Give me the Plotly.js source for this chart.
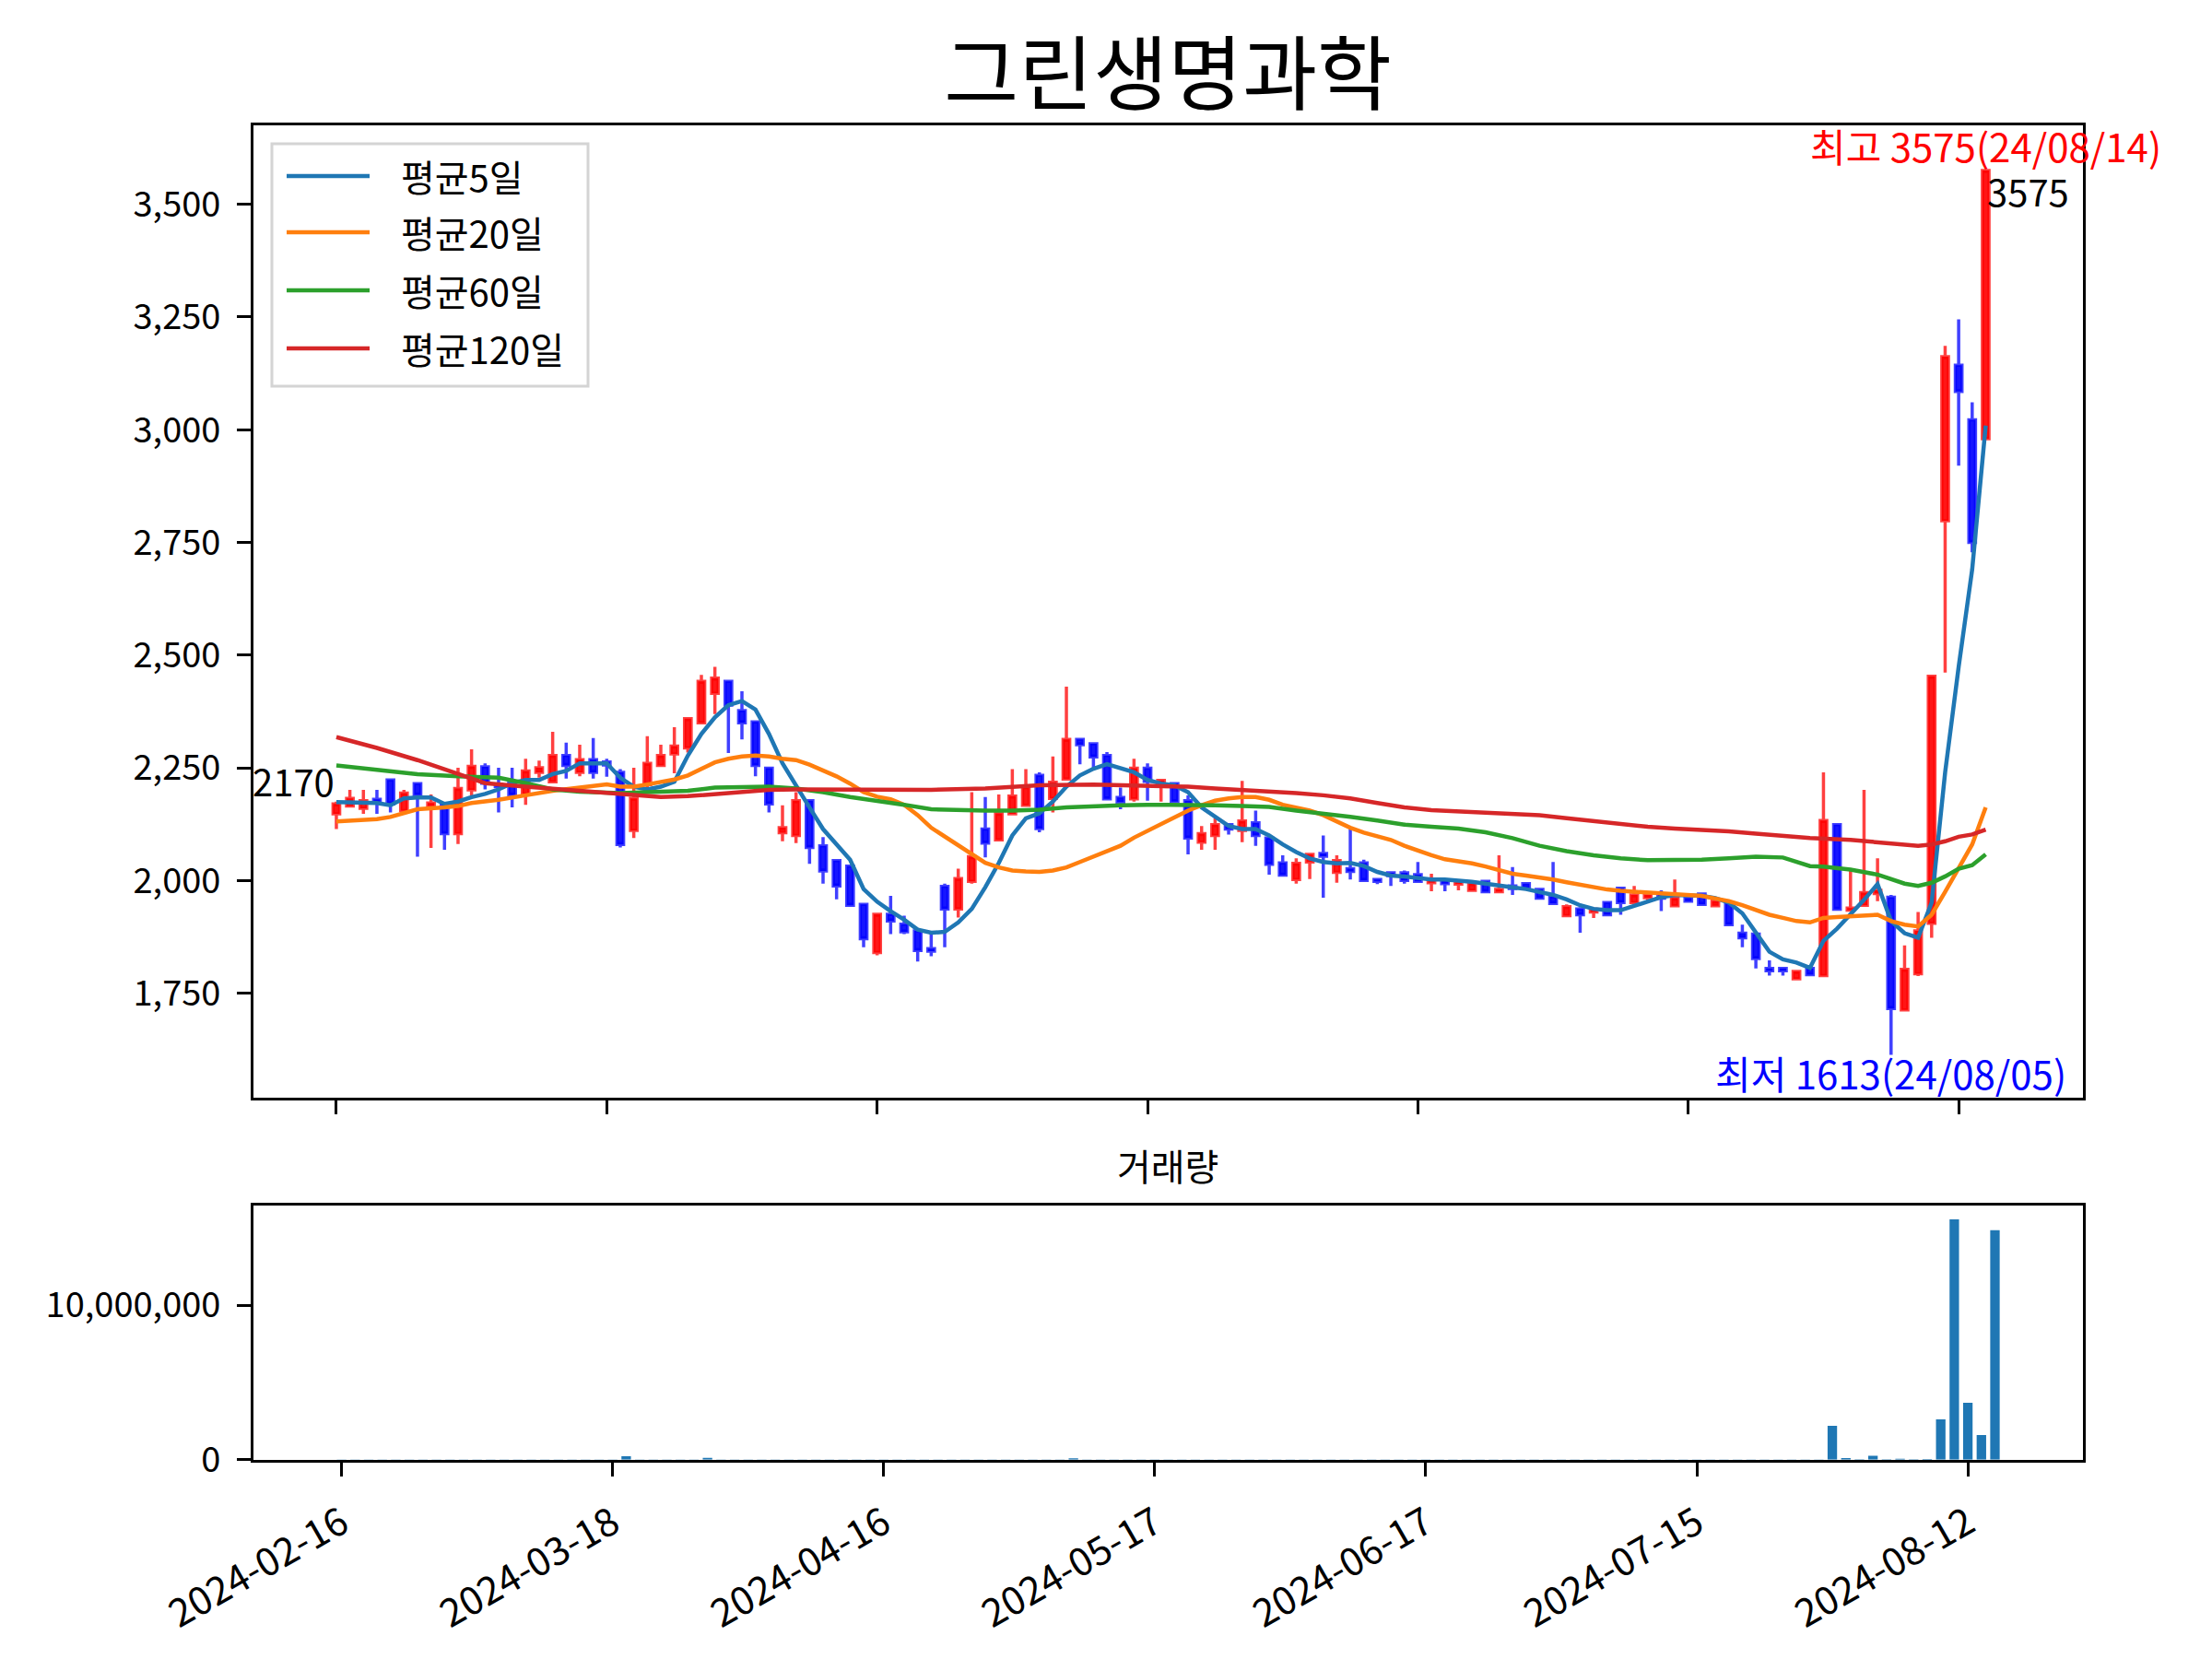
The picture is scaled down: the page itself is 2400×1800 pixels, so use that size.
<!DOCTYPE html>
<html>
<head>
<meta charset="utf-8">
<script src="https://cdn.plot.ly/plotly-3.0.1.min.js"></script>
<style>
    html, body { margin: 0; padding: 0; background: #fff; }
</style>
</head>
<body>
<div id="chart" style="width:2400px;height:1800px;"></div>
<script>
const FONT = '"Noto Sans CJK KR", "Noto Sans", sans-serif';

// trading-day index based axis, labels every 20 sessions
const tickIdx = [0, 20, 40, 60, 80, 100, 120];
const tickLabels = ['2024-02-16', '2024-03-18', '2024-04-16', '2024-05-17', '2024-06-17', '2024-07-15', '2024-08-12'];

const opens = [
    2148, 2165, 2160, 2180, 2223, 2155, 2215, 2165, 2168, 2104,
    2201, 2252, 2213, 2216, 2192, 2240, 2219, 2277, 2240, 2268,
    2263, 2240, 2111, 2213, 2255, 2281, 2294, 2350, 2415, 2442,
    2377, 2352, 2249, 2106, 2100, 2177, 2077, 2044, 2032, 1947,
    1840, 1925, 1903, 1888, 1849, 1987, 1937, 1998, 2114, 2090,
    2148, 2167, 2233, 2182, 2225, 2313, 2303, 2277, 2184, 2181,
    2249, 2215, 2215, 2177, 2085, 2100, 2124, 2111, 2128, 2094,
    2039, 2002, 2041, 2060, 2018, 2026, 2039, 2002, 2017, 2017,
    2013, 1995, 2000, 1992, 1978, 1998, 1975, 1988, 1993, 1980,
    1964, 1922, 1937, 1930, 1951, 1983, 1951, 1962, 1968, 1944,
    1961, 1970, 1944, 1951, 1883, 1881, 1805, 1805, 1782, 1805,
    1789, 2124, 1934, 1945, 1971, 1963, 1713, 1793, 1905, 2798,
    3143, 3022, 2980
];
const highs = [
    2175, 2201, 2201, 2201, 2223, 2201, 2215, 2191, 2168, 2250,
    2291, 2260, 2250, 2250, 2270, 2266, 2330, 2306, 2301, 2316,
    2270, 2247, 2250, 2320, 2301, 2340, 2359, 2456, 2474, 2442,
    2420, 2352, 2249, 2167, 2196, 2177, 2096, 2044, 2032, 1947,
    1925, 1966, 1922, 1888, 1883, 1993, 2026, 2196, 2185, 2191,
    2247, 2247, 2240, 2275, 2430, 2313, 2303, 2285, 2206, 2270,
    2260, 2225, 2215, 2189, 2121, 2138, 2124, 2221, 2155, 2094,
    2056, 2049, 2058, 2100, 2056, 2115, 2046, 2002, 2017, 2022,
    2041, 2015, 2000, 2002, 1993, 2000, 2056, 2030, 1993, 1980,
    2041, 1947, 1941, 1936, 1951, 1983, 1988, 1968, 1978, 2002,
    1968, 1970, 1954, 1951, 1902, 1881, 1823, 1805, 1800, 1805,
    2240, 2124, 2026, 2201, 2049, 1968, 1856, 1930, 2453, 3186,
    3245, 3061, 3575
];
const lows = [
    2114, 2162, 2148, 2148, 2151, 2151, 2053, 2072, 2068, 2081,
    2189, 2202, 2151, 2162, 2168, 2228, 2216, 2226, 2231, 2226,
    2230, 2073, 2094, 2202, 2252, 2238, 2284, 2350, 2369, 2283,
    2313, 2231, 2151, 2087, 2083, 2037, 1993, 1958, 1945, 1852,
    1834, 1881, 1881, 1820, 1832, 1852, 1918, 1993, 2051, 2090,
    2148, 2167, 2107, 2151, 2225, 2258, 2250, 2181, 2158, 2175,
    2177, 2175, 2174, 2058, 2068, 2068, 2102, 2085, 2077, 2013,
    2012, 1993, 2003, 1962, 1995, 2002, 1998, 1992, 1988, 1993,
    1998, 1976, 1976, 1978, 1978, 1975, 1975, 1968, 1982, 1961,
    1949, 1922, 1884, 1917, 1924, 1924, 1951, 1954, 1932, 1944,
    1951, 1947, 1944, 1902, 1852, 1805, 1789, 1789, 1779, 1791,
    1786, 1936, 1934, 1945, 1954, 1613, 1713, 1788, 1873, 2461,
    2920, 2728, 2980
];
const closes = [
    2170, 2182, 2177, 2172, 2170, 2194, 2190, 2172, 2104, 2204,
    2253, 2216, 2208, 2190, 2243, 2250, 2277, 2255, 2268, 2240,
    2256, 2080, 2182, 2260, 2277, 2298, 2359, 2442, 2449, 2389,
    2350, 2255, 2170, 2117, 2177, 2073, 2021, 1988, 1945, 1871,
    1925, 1910, 1886, 1845, 1843, 1937, 2004, 2053, 2083, 2149,
    2187, 2208, 2115, 2218, 2313, 2301, 2274, 2181, 2174, 2249,
    2220, 2222, 2175, 2094, 2104, 2124, 2114, 2132, 2100, 2036,
    2012, 2038, 2058, 2054, 2044, 2020, 2000, 1998, 2011, 2000,
    1998, 1999, 1993, 1996, 1993, 1975, 1980, 1982, 1982, 1961,
    1949, 1942, 1924, 1936, 1924, 1951, 1968, 1968, 1961, 1961,
    1954, 1947, 1954, 1902, 1873, 1827, 1800, 1800, 1798, 1791,
    2133, 1936, 1939, 1973, 1978, 1716, 1803, 1888, 2453, 3162,
    3085, 2750, 3575
];
const volumes = [
    9000, 7000, 6000, 6500, 9500, 8000, 11000, 8500, 10000, 12000,
    13000, 7500, 7000, 6000, 10000, 5500, 12000, 7000, 6500, 8500,
    5500, 210000, 14000, 15000, 8000, 11000, 14000, 110000, 15000, 13000,
    9000, 12000, 10000, 8000, 9000, 9500, 8000, 7500, 8500, 11000,
    10000, 7000, 6500, 7500, 6000, 9000, 8000, 13000, 8500, 9500,
    11000, 10000, 9000, 10500, 90000, 9500, 8000, 8500, 5500, 10000,
    7500, 5000, 6500, 9000, 6000, 7000, 4500, 11000, 6500, 7500,
    5000, 5500, 6000, 8000, 5000, 7000, 5500, 4000, 4500, 4000,
    4500, 4200, 3500, 4000, 3400, 4500, 7000, 5500, 3800, 5000,
    6500, 5200, 6000, 4000, 4600, 5600, 5000, 3800, 4400, 5800,
    4200, 4800, 4000, 6300, 7300, 8800, 5900, 5000, 5400, 4600,
    2190000, 100000, 30000, 240000, 20000, 60000, 30000, 40000, 2610000, 15560000,
    3680000, 1590000, 14850000
];

// moving averages: index lists + values
const ma5X = [
    0, 1, 2, 3, 4, 5, 6, 7, 8, 9, 10, 11, 12, 13, 14, 15, 16, 17, 18, 19,
    20, 21, 22, 23, 24, 25, 26, 27, 28, 29, 30, 31, 32, 33, 34, 35, 36, 37, 38, 39,
    40, 41, 42, 43, 44, 45, 46, 47, 48, 49, 50, 51, 52, 53, 54, 55, 56, 57, 58, 59,
    60, 61, 62, 63, 64, 65, 66, 67, 68, 69, 70, 71, 72, 73, 74, 75, 76, 77, 78, 79,
    80, 81, 82, 83, 84, 85, 86, 87, 88, 89, 90, 91, 92, 93, 94, 95, 96, 97, 98, 99,
    100, 101, 102, 103, 104, 105, 106, 107, 108, 109, 110, 111, 112, 113, 114, 115, 116, 117, 118, 119,
    120, 121, 122
];
const ma5 = [
    2174, 2174, 2174, 2172, 2167, 2182, 2184, 2184, 2170, 2175, 2185, 2192, 2202, 2216, 2223, 2223, 2236, 2243, 2260, 2260,
    2260, 2228, 2208, 2202, 2208, 2219, 2277, 2325, 2362, 2389, 2398, 2379, 2325, 2260, 2213, 2162, 2114, 2080, 2046, 1981,
    1953, 1932, 1913, 1891, 1884, 1886, 1907, 1937, 1985, 2039, 2100, 2138, 2149, 2175, 2208, 2233, 2248, 2258, 2250, 2240,
    2223, 2215, 2211, 2196, 2162, 2141, 2121, 2114, 2114, 2100, 2080, 2063, 2049, 2041, 2038, 2039, 2032, 2019, 2011, 2009,
    2005, 2002, 2002, 2000, 1997, 1993, 1988, 1985, 1981, 1975, 1968, 1958, 1945, 1937, 1934, 1934, 1944, 1954, 1963, 1968,
    1968, 1966, 1961, 1951, 1927, 1886, 1842, 1825, 1818, 1806, 1866, 1893, 1924, 1957, 1992, 1910, 1883, 1873, 1951, 2240,
    2474, 2690, 3009
];
const ma20X = [
    0, 3, 4, 6, 8, 9, 10, 12, 14, 16, 18, 20, 21, 22, 23, 25, 26, 27, 28, 29,
    30, 31, 32, 33, 34, 35, 36, 37, 38, 39, 40, 41, 42, 43, 44, 45, 46, 47, 48, 49,
    50, 51, 52, 53, 54, 55, 56, 57, 58, 59, 60, 61, 62, 63, 64, 65, 66, 67, 68, 69,
    70, 71, 72, 73, 74, 75, 76, 77, 78, 79, 80, 81, 82, 83, 84, 85, 86, 87, 88, 89,
    90, 91, 92, 93, 94, 95, 96, 97, 98, 99, 100, 101, 102, 103, 104, 105, 106, 107, 108, 109,
    110, 111, 112, 113, 114, 115, 116, 117, 118, 119, 120, 121, 122
];
const ma20 = [
    2131, 2136, 2141, 2158, 2162, 2165, 2172, 2179, 2189, 2199, 2206, 2213, 2208, 2208, 2213, 2224, 2233, 2247, 2262, 2270,
    2275, 2277, 2275, 2270, 2267, 2257, 2245, 2231, 2215, 2196, 2186, 2180, 2168, 2145, 2117, 2097, 2079, 2058, 2039, 2029,
    2022, 2020, 2019, 2022, 2029, 2041, 2053, 2063, 2077, 2095, 2110, 2126, 2140, 2155, 2167, 2177, 2182, 2185, 2185, 2179,
    2168, 2162, 2155, 2145, 2131, 2117, 2106, 2099, 2090, 2077, 2066, 2056, 2047, 2043, 2038, 2031, 2024, 2015, 2011, 2007,
    2002, 1996, 1990, 1985, 1980, 1977, 1975, 1973, 1971, 1969, 1966, 1966, 1960, 1954, 1945, 1934, 1924, 1917, 1910, 1907,
    1917, 1919, 1920, 1921, 1924, 1910, 1902, 1898, 1924, 1975, 2029, 2080, 2162
];
const ma60X = [
    0, 4, 6, 9, 12, 14, 16, 18, 21, 23, 26, 28, 30, 32, 34, 36, 38, 40, 42, 44,
    46, 48, 50, 52, 54, 56, 58, 60, 63, 65, 67, 69, 71, 73, 75, 77, 79, 81, 83, 85,
    87, 89, 91, 93, 95, 97, 99, 101, 103, 105, 107, 109, 110, 112, 114, 115, 116, 117, 118, 119,
    120, 121, 122
];
const ma60 = [
    2255, 2242, 2236, 2231, 2228, 2216, 2202, 2197, 2194, 2196, 2199, 2206, 2208, 2208, 2204, 2196, 2185, 2177, 2168, 2158,
    2156, 2155, 2155, 2157, 2162, 2165, 2167, 2168, 2168, 2167, 2165, 2163, 2155, 2149, 2141, 2133, 2124, 2119, 2115, 2107,
    2094, 2077, 2065, 2056, 2049, 2045, 2045, 2046, 2049, 2053, 2051, 2032, 2031, 2024, 2013, 2002, 1993, 1988, 1995, 2009,
    2026, 2034, 2058
];
const ma120X = [
    0, 3, 6, 9, 11, 14, 17, 21, 22, 24, 26, 28, 30, 32, 34, 36, 40, 44, 48, 52,
    56, 60, 63, 65, 67, 69, 71, 73, 75, 77, 79, 81, 83, 85, 87, 89, 91, 93, 95, 97,
    99, 101, 103, 105, 107, 109, 112, 114, 115, 116, 117, 118, 119, 120, 121, 122
];
const ma120 = [
    2318, 2294, 2267, 2236, 2216, 2208, 2201, 2193, 2189, 2185, 2187, 2192, 2197, 2201, 2202, 2202, 2202, 2201, 2204, 2211,
    2213, 2211, 2208, 2204, 2201, 2199, 2194, 2189, 2182, 2172, 2162, 2156, 2153, 2151, 2148, 2145, 2138, 2131, 2124, 2119,
    2115, 2113, 2109, 2104, 2099, 2094, 2090, 2085, 2083, 2080, 2077, 2080, 2087, 2097, 2102, 2113
];

const maNames = ['평균5일', '평균20일', '평균60일', '평균120일'];
const maColors = ['#1f77b4', '#ff7f0e', '#2ca02c', '#d62728'];

const idx = closes.map((_, i) => i);

const lineTrace = (x, y, k) => ({
    type: 'scatter',
    mode: 'lines',
    x: x,
    y: y,
    name: maNames[k],
    line: { color: maColors[k], width: 4.5 },
    showlegend: false,
    xaxis: 'x',
    yaxis: 'y',
});

const traces = [
    {
        type: 'candlestick',
        x: idx,
        open: opens,
        high: highs,
        low: lows,
        close: closes,
        showlegend: false,
        whiskerwidth: 0,
        increasing: { line: { color: 'rgba(255,0,0,0.75)', width: 3.5 }, fillcolor: 'rgba(255,10,10,0.95)' },
        decreasing: { line: { color: 'rgba(0,0,255,0.75)', width: 3.5 }, fillcolor: 'rgba(10,10,255,0.95)' },
        xaxis: 'x',
        yaxis: 'y',
    },
    lineTrace(ma5X, ma5, 0),
    lineTrace(ma20X, ma20, 1),
    lineTrace(ma60X, ma60, 2),
    lineTrace(ma120X, ma120, 3),
    {
        type: 'bar',
        x: idx,
        y: volumes,
        width: 0.7,
        marker: { color: '#1f77b4', line: { width: 0 } },
        showlegend: false,
        xaxis: 'x2',
        yaxis: 'y2',
    },
];

const axisBase = {
    showline: true,
    mirror: true,
    linecolor: '#000',
    linewidth: 3,
    showgrid: false,
    zeroline: false,
    ticks: 'outside',
    ticklen: 15,
    tickwidth: 3,
    tickcolor: '#000',
    ticklabelstandoff: 10,
    tickfont: { family: FONT, size: 38, color: '#000' },
};

const hiIdx = highs.indexOf(Math.max(...highs));
const loIdx = lows.indexOf(Math.min(...lows));

// matplotlib-like legend box drawn in paper space (pixels / 2400, 1800)
const px = v => v / 2400;
const py = v => 1 - v / 1800;
const legendRows = [191, 252, 315, 378];

const legendShapes = [
    {
        type: 'rect', xref: 'paper', yref: 'paper',
        x0: px(295), x1: px(638), y0: py(419), y1: py(156),
        line: { color: '#d4d4d4', width: 3 },
        fillcolor: 'rgba(255,255,255,0.8)',
        layer: 'above',
    },
].concat(maNames.map((_, k) => ({
    type: 'line', xref: 'paper', yref: 'paper',
    x0: px(311), x1: px(401), y0: py(legendRows[k]), y1: py(legendRows[k]),
    line: { color: maColors[k], width: 4.5 },
    layer: 'above',
})));

const legendTexts = maNames.map((name, k) => ({
    x: px(433), y: py(legendRows[k]), xref: 'paper', yref: 'paper',
    text: name, showarrow: false,
    xanchor: 'left', yanchor: 'middle',
    font: { family: FONT, size: 40, color: '#000' },
}));

const layout = {
    width: 2400,
    height: 1800,
    autosize: false,
    margin: { l: 0, r: 0, t: 0, b: 0 },
    paper_bgcolor: '#fff',
    plot_bgcolor: '#fff',
    font: { family: FONT, color: '#000' },
    title: {
        text: '그린생명과학',
        font: { family: FONT, size: 88, color: '#000' },
        x: 0.528,
        xanchor: 'center',
        y: 0.955,
        yanchor: 'middle',
    },
    showlegend: false,
    xaxis: Object.assign({}, axisBase, {
        domain: [0.1146, 0.9417],
        range: [-6.13, 129.2],
        anchor: 'y',
        tickvals: tickIdx,
        showticklabels: false,
        rangeslider: { visible: false },
    }),
    yaxis: Object.assign({}, axisBase, {
        domain: [0.3383, 0.9244],
        range: [1518, 3675],
        anchor: 'x',
        tickvals: [1750, 2000, 2250, 2500, 2750, 3000, 3250, 3500],
        tickformat: ',d',
    }),
    xaxis2: Object.assign({}, axisBase, {
        domain: [0.1146, 0.9417],
        range: [-6.5, 128.5],
        anchor: 'y2',
        tickvals: tickIdx,
        ticktext: tickLabels,
        tickangle: -30,
        tickfont: { family: FONT, size: 42, color: '#000' },
    }),
    yaxis2: Object.assign({}, axisBase, {
        domain: [0.1202, 0.2733],
        range: [0, 16450000],
        anchor: 'x2',
        tickvals: [0, 10000000],
        tickformat: ',d',
    }),
    shapes: legendShapes,
    annotations: [
        {
            x: 0, y: closes[0], xref: 'x', yref: 'y',
            text: String(closes[0]), showarrow: false,
            xanchor: 'right', yanchor: 'bottom', yshift: -6,
            font: { family: FONT, size: 40, color: '#000' },
        },
        {
            x: closes.length - 1, y: closes[closes.length - 1], xref: 'x', yref: 'y',
            text: String(closes[closes.length - 1]), showarrow: false,
            xanchor: 'left', yanchor: 'top', yshift: 9,
            font: { family: FONT, size: 40, color: '#000' },
        },
        {
            x: hiIdx, y: highs[hiIdx], xref: 'x', yref: 'y',
            text: '최고 ' + highs[hiIdx] + '(24/08/14)', showarrow: false,
            xanchor: 'center', yanchor: 'bottom', yshift: -5,
            font: { family: FONT, size: 42, color: '#ff0000' },
        },
        {
            x: loIdx, y: lows[loIdx], xref: 'x', yref: 'y',
            text: '최저 ' + lows[loIdx] + '(24/08/05)', showarrow: false,
            xanchor: 'center', yanchor: 'top', yshift: 14,
            font: { family: FONT, size: 42, color: '#0000ff' },
        },
        {
            x: 0.528, y: 0.298, xref: 'paper', yref: 'paper',
            text: '거래량', showarrow: false,
            xanchor: 'center', yanchor: 'middle',
            font: { family: FONT, size: 40, color: '#000' },
        },
    ].concat(legendTexts),
};

Plotly.newPlot('chart', traces, layout, { displayModeBar: false, staticPlot: true });
</script>
</body>
</html>
